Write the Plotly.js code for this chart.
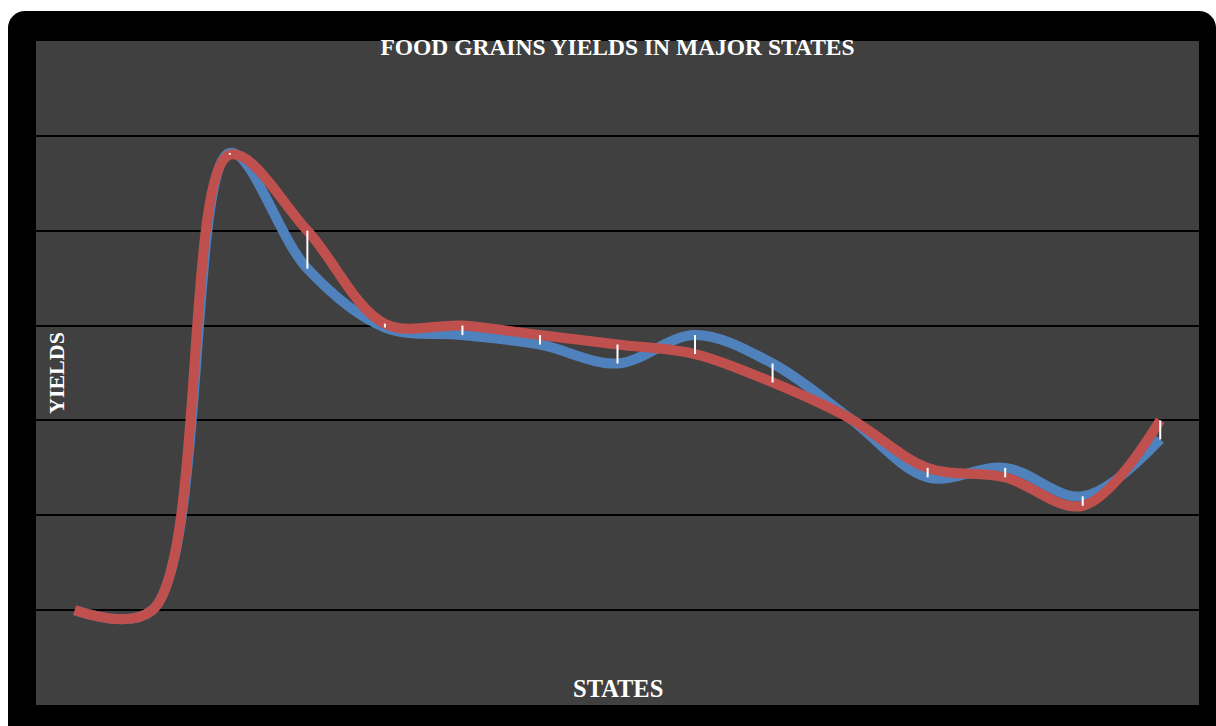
<!DOCTYPE html>
<html>
<head>
<meta charset="utf-8">
<script src="https://cdn.plot.ly/plotly-3.0.1.min.js"></script>
<style>
  html, body { margin: 0; padding: 0; background: #ffffff; width: 1216px; height: 726px; overflow: hidden; }
  #frame { position: absolute; left: 8px; top: 11px; width: 1208px; height: 740px; background: #000000; border-radius: 17px; }
  #chart { position: absolute; left: 0; top: 0; width: 1216px; height: 726px; }
</style>
</head>
<body>
<div id="frame"></div>
<div id="chart"></div>
<script>
// Categories (state labels are not printed on the reference chart)
const states = ['State 1', 'State 2', 'State 3', 'State 4', 'State 5', 'State 6', 'State 7', 'State 8',
                'State 9', 'State 10', 'State 11', 'State 12', 'State 13', 'State 14', 'State 15'];
// Series values
const seriesBlue = [0, 0, 2410, 1800, 1490, 1450, 1400, 1300, 1450, 1300, 1010, 700, 750, 600, 900];
const seriesRed  = [0, 0, 2400, 2000, 1510, 1500, 1450, 1400, 1350, 1200, 1010, 750, 700, 550, 1000];
const gridValues = [0, 500, 1000, 1500, 2000, 2500];

// High-low connector lines between the two series at each category
const hlX = [], hlY = [];
states.forEach((s, i) => {
  hlX.push(s, s, null);
  hlY.push(Math.max(seriesBlue[i], seriesRed[i]), Math.min(seriesBlue[i], seriesRed[i]), null);
});

const traces = [
  { x: states, y: seriesBlue, type: 'scatter', mode: 'lines', name: 'Series 1',
    line: { color: '#4F81BD', width: 10, shape: 'spline', smoothing: 1 }, hoverinfo: 'y' },
  { x: states, y: seriesRed, type: 'scatter', mode: 'lines', name: 'Series 2',
    line: { color: '#C0504D', width: 10, shape: 'spline', smoothing: 1 }, hoverinfo: 'y' },
  { x: hlX, y: hlY, type: 'scatter', mode: 'lines', name: 'High-Low',
    line: { color: '#ffffff', width: 2 }, hoverinfo: 'skip', connectgaps: false }
];

const serif = 'Liberation Serif, "Times New Roman", serif';
const titleFont = { family: serif, size: 23.5, color: '#ffffff', weight: 'bold' };
const xTitleFont = { family: serif, size: 24.5, color: '#ffffff', weight: 'bold' };
const yTitleFont = { family: serif, size: 22, color: '#ffffff', weight: 'bold' };

const layout = {
  width: 1216, height: 726,
  paper_bgcolor: 'rgba(0,0,0,0)',
  plot_bgcolor: '#404040',
  margin: { l: 36, r: 17, t: 41, b: 21, pad: 0 },
  showlegend: false,
  title: { text: '<b>FOOD GRAINS YIELDS IN MAJOR STATES</b>', font: titleFont,
           xref: 'paper', x: 0.5, xanchor: 'center', yref: 'container', y: 1 - 47 / 726, yanchor: 'middle' },
  xaxis: { type: 'category', range: [-0.5, 14.5], showgrid: false, zeroline: false,
           showticklabels: false, ticks: '', showline: false, fixedrange: true },
  yaxis: { range: [-500, 3000], tickvals: gridValues, showticklabels: false, ticks: '',
           showgrid: true, gridcolor: '#000000', gridwidth: 2, zeroline: false, showline: false, fixedrange: true },
  annotations: [
    { text: '<b>STATES</b>', xref: 'paper', yref: 'paper', x: 0.5, y: (705 - 688) / 664,
      xanchor: 'center', yanchor: 'middle', showarrow: false, font: xTitleFont },
    { text: '<b>YIELDS</b>', xref: 'paper', yref: 'paper', x: (56 - 36) / 1163, y: 0.5,
      xanchor: 'center', yanchor: 'middle', showarrow: false, textangle: -90, font: yTitleFont }
  ]
};

Plotly.newPlot('chart', traces, layout, { displayModeBar: false, staticPlot: true });
</script>
</body>
</html>
